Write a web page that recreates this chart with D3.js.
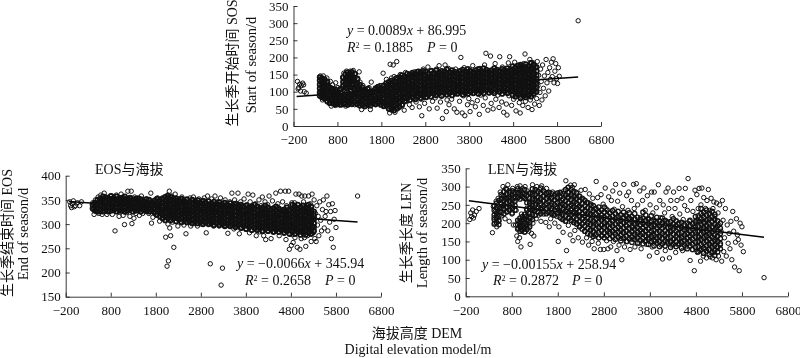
<!DOCTYPE html>
<html><head><meta charset="utf-8">
<script src="https://cdn.jsdelivr.net/npm/d3@7"></script>
<style>
html,body{margin:0;padding:0;background:#fff}
svg{display:block;filter:blur(.35px)}
text{font-family:"Liberation Serif","Noto Sans CJK SC",serif;fill:#111}
</style></head><body><svg id="c" width="800" height="358"></svg>
<script>
const xTicks=[-200,800,1800,2800,3800,4800,5800,6800];
const sosTicks=[0,50,100,150,200,250,300,350];
const eosTicks=[150,200,250,300,350,400];
const lenTicks=[0,50,100,150,200,250,300,350];
const sosFit=[0.0089,86.995], eosFit=[-0.0066,345.94], lenFit=[-0.0155,258.94];
const fitRange=[-130,6280];
// flat x,y lists
const sosPts=[-110,130,-80,112,-60,122,-40,102,-20,118,10,125,-95,108,30,120,45,100,90,96,
410,146,430,128,450,112,420,100,470,135,490,120,440,90,480,146,510,130,530,105,500,92,460,76,540,118,560,140,580,96,570,72,520,80,600,112,620,88,640,130,610,66,650,100,670,78,690,120,660,58,700,92,720,68,710,108,740,84,760,126,750,60,770,98,790,74,810,112,800,62,830,90,850,72,840,104,870,64,880,84,900,100,920,142,930,118,945,154,960,76,975,128,985,96,990,58,1005,160,1020,140,1030,112,1040,82,1050,68,1065,150,1080,130,1090,160,1100,100,1110,74,1120,120,1135,146,1150,88,1160,162,1175,136,1185,108,1195,62,1210,152,1225,124,1240,96,1250,78,1265,138,1280,112,1295,158,1300,66,1315,128,1330,84,1340,104,1350,48,1365,72,1380,118,1395,92,1410,56,1425,80,1440,102,1460,68,1480,94,1500,60,1520,112,1535,82,1550,48,1570,128,1590,98,1610,70,1630,88,1650,106,1670,62,1690,78,1710,114,1730,92,1750,66,1770,118,1790,84,
1810,70,1825,102,1840,154,1855,60,1870,90,1885,118,1900,74,1915,136,1930,56,1945,106,1960,84,1975,126,1990,38,2000,180,2010,68,2020,112,2030,140,2040,92,2050,52,2060,122,2070,178,2080,76,2090,144,2100,100,2110,40,2120,130,2130,62,2140,86,2150,188,2160,116,2170,50,2180,138,2190,96,2200,72,2215,124,2230,150,2245,84,2260,108,2275,60,2290,134,2305,94,2320,46,2335,118,2350,156,2365,74,2380,102,2395,142,2410,86,2425,126,2440,62,2455,112,2470,148,2485,94,2500,54,2515,132,2530,80,2545,118,2560,158,2575,100,2590,70,2605,140,2620,88,2635,124,2650,160,2665,56,2680,108,2695,146,2710,78,2720,30,2725,130,2740,96,2755,166,2770,116,2785,66,2800,150,2815,104,2830,136,2845,84,2860,172,2875,122,2890,50,2905,94,2920,142,2935,112,2950,162,2965,72,2980,128,2995,102,
3010,152,3025,82,3040,120,3055,166,3070,52,3085,138,3100,96,3115,176,3130,112,3145,70,3160,146,3175,126,3190,22,3205,90,3220,158,3235,108,3250,178,3265,134,3280,42,3295,76,3310,116,3325,168,3340,62,3355,144,3370,100,3385,128,3400,78,3415,156,3430,112,3445,136,3460,50,3475,94,3490,166,3505,122,3520,40,3535,148,3550,106,3565,130,3580,72,3595,158,3610,200,3625,116,3640,38,3655,140,3670,88,3685,170,3700,30,3715,124,3730,150,3745,100,3760,62,3775,134,3790,80,3805,162,3820,42,3835,112,3850,144,3865,68,3880,176,3895,126,3910,96,3925,156,3940,56,3955,132,3970,108,3985,74,4000,148,4015,118,4030,34,4045,168,4060,90,4075,138,4090,104,4105,154,4120,60,4135,126,4150,178,4165,82,4180,212,4195,114,4210,142,4225,46,4240,160,4255,96,4270,130,4285,204,4300,66,4315,120,4330,150,4345,50,4360,100,4375,140,4390,182,4405,78,4420,124,4435,164,4450,90,4465,134,4480,54,4495,202,4510,110,4525,146,4540,70,4555,172,4570,120,4585,40,4600,138,4615,98,4630,156,4645,64,4660,32,4675,126,4690,184,4705,88,4720,202,4735,144,4750,108,4765,60,4780,166,4795,130,4810,78,
4820,152,4835,186,4850,104,4865,44,4880,136,4895,160,4910,92,4920,120,4930,176,4940,68,4950,146,4960,38,4970,110,4980,130,4990,172,5000,84,5010,156,5020,60,5030,124,5040,182,5050,98,5060,142,5070,210,5080,72,5090,116,5100,164,5110,134,5120,88,5130,152,5140,54,5150,106,5160,176,5170,128,5180,194,5190,76,5200,146,5210,112,5220,166,5230,48,5240,136,5250,92,5260,184,5270,120,5280,154,5290,64,5300,104,5310,170,5320,132,5335,80,5350,188,5365,118,5380,148,5395,60,5410,98,5425,166,5440,130,5455,76,5470,178,5490,110,5510,146,5530,88,5550,194,5570,126,5590,156,5610,102,5630,170,5650,136,5670,186,5690,144,5710,196,5730,126,5750,160,5770,182,5790,138,5810,124,5830,170,5850,145,6280,307];
const eosPts=[-110,346,-90,338,-70,334,-50,342,-30,348,-10,336,20,338,60,344,110,338,150,346,
400,344,415,330,430,320,445,338,460,350,475,326,490,342,505,334,520,356,535,322,550,346,565,330,580,360,595,340,610,320,625,352,640,334,655,364,670,326,685,344,700,356,715,320,730,336,745,350,760,328,775,342,790,358,805,332,820,346,835,320,850,338,865,354,880,330,895,286,910,344,925,360,940,326,955,340,970,352,985,316,1000,334,1015,348,1030,362,1045,326,1060,342,1075,318,1090,354,1105,299,1120,336,1135,348,1150,324,1165,342,1180,368,1195,332,1210,352,1225,316,1240,338,1255,368,1270,301,1285,326,1300,346,1315,312,1330,356,1345,334,1360,322,1375,344,1390,328,1405,352,1420,336,1435,318,1450,346,1465,330,1480,358,1495,340,1510,322,1525,350,1540,334,1555,344,1570,326,1585,338,1600,352,1615,328,1630,342,1645,322,1660,334,1675,348,1690,364,1705,302,1720,338,1735,314,1750,344,1765,326,1780,350,1795,334,
1810,318,1825,342,1840,354,1855,328,1870,336,1885,306,1900,348,1915,322,1930,338,1945,354,1960,312,1975,344,1990,330,2005,356,2020,273,2030,318,2040,340,2050,213,2060,360,2070,300,2080,224,2090,332,2100,368,2110,292,2120,346,2130,276,2140,320,2150,358,2160,336,2170,304,2180,348,2190,324,2200,252,2215,342,2230,362,2245,312,2260,330,2275,352,2290,296,2305,338,2320,318,2335,346,2350,306,2365,334,2380,356,2395,322,2410,342,2425,298,2440,314,2455,336,2470,280,2485,350,2500,326,2515,304,2530,340,2545,318,2560,354,2575,296,2590,332,2605,310,2620,344,2635,356,2650,324,2665,302,2680,336,2695,316,2710,346,2725,296,2740,328,2755,352,2770,310,2785,338,2800,322,2815,300,2830,346,2845,316,2860,332,2875,354,2890,306,2905,342,2920,282,2935,324,2950,358,2965,312,2980,336,2995,300,
3010,218,3025,330,3040,352,3055,316,3070,342,3085,296,3100,326,3115,358,3130,310,3145,338,3160,304,3175,346,3190,322,3205,296,3220,332,3235,354,3250,174,3265,312,3280,209,3295,340,3310,300,3325,324,3340,350,3355,296,3370,316,3385,338,3400,281,3415,308,3430,330,3445,346,3460,298,3475,320,3490,364,3505,310,3520,334,3535,290,3550,350,3565,316,3580,328,3595,298,3610,342,3625,364,3640,306,3655,280,3670,326,3685,346,3700,294,3715,318,3730,336,3745,304,3760,352,3775,322,3790,290,3805,310,3820,340,3835,300,3850,362,3865,326,3880,282,3895,346,3910,312,3925,296,3940,334,3955,360,3970,306,3985,322,4000,290,4015,342,4030,276,4045,314,4060,330,4075,300,4090,350,4105,284,4120,320,4135,338,4150,296,4165,356,4180,310,4195,276,4210,328,4225,346,4240,268,4255,302,4270,318,4285,340,4300,286,4315,358,4330,308,4345,328,4360,270,4375,296,4390,348,4405,316,4420,334,4435,284,4450,304,4465,364,4480,320,4495,292,4510,342,4525,310,4540,276,4555,330,4570,368,4585,300,4600,318,4615,346,4630,286,4645,326,4660,304,4675,368,4690,268,4705,338,4720,290,4735,314,4750,368,4765,248,4780,330,4795,300,4810,256,
4820,344,4830,278,4840,316,4850,262,4860,330,4870,296,4880,344,4890,272,4900,310,4910,362,4920,288,4930,326,4940,252,4950,304,4960,340,4970,282,4980,362,4990,318,5000,248,5010,296,5020,336,5030,270,5040,358,5050,310,5060,286,5070,328,5080,346,5090,298,5100,272,5110,358,5120,318,5130,254,5140,292,5150,338,5160,306,5170,276,5180,326,5190,358,5200,296,5210,316,5220,284,5230,342,5240,304,5250,264,5260,330,5270,362,5280,294,5290,312,5300,282,5315,350,5330,270,5345,322,5360,264,5375,338,5390,298,5405,316,5420,276,5440,346,5460,308,5480,286,5500,330,5520,350,5540,292,5560,316,5580,326,5600,358,5620,286,5640,340,5660,304,5680,326,5700,270,5720,342,5740,252,5760,310,5780,328,5800,293,6280,358];
const lenPts=[-110,210,-90,228,-70,218,-50,236,-30,214,-10,222,30,232,90,240,
380,174,400,245,415,215,430,200,445,232,460,260,475,190,490,224,505,268,520,205,535,240,550,285,565,252,580,220,595,275,610,300,625,240,640,268,655,212,670,295,685,255,700,230,715,305,730,268,745,205,760,288,775,245,790,270,805,225,820,295,835,195,850,258,865,280,880,195,895,235,910,165,920,300,930,150,940,186,950,272,960,205,970,160,980,302,990,192,1000,135,1010,225,1020,178,1030,295,1040,210,1050,188,1060,270,1070,200,1080,176,1090,300,1100,218,1110,192,1120,240,1130,182,1140,288,1150,205,1160,228,1170,178,1180,260,1190,195,1200,142,1210,282,1220,215,1230,172,1240,248,1250,305,1260,200,1270,268,1280,165,1290,232,1300,285,1315,255,1330,212,1345,300,1360,270,1375,240,1390,222,1405,292,1420,260,1435,205,1450,302,1465,240,1480,272,1495,225,1510,285,1525,250,1540,202,1555,295,1570,268,1585,230,1600,282,1615,190,1630,250,1645,212,1660,270,1675,236,1690,285,1705,222,1720,262,1735,200,1750,280,1765,245,1780,218,1795,270,
1810,150,1825,190,1840,242,1855,282,1870,212,1885,262,1900,230,1915,175,1930,288,1945,250,1960,205,1975,316,1990,125,2000,270,2010,236,2020,298,2030,194,2040,255,2050,285,2060,215,2070,168,2080,304,2090,240,2100,272,2110,205,2120,298,2130,152,2140,250,2150,225,2160,305,2170,180,2180,265,2190,235,2200,285,2215,200,2230,250,2245,160,2260,222,2275,272,2290,192,2305,290,2320,240,2335,148,2350,212,2365,265,2380,178,2395,292,2410,232,2425,160,2440,255,2455,205,2470,140,2485,280,2500,222,2515,180,2530,248,2545,150,2560,268,2575,198,2590,130,2605,238,2620,165,2635,314,2650,212,2665,270,2680,145,2695,232,2710,188,2725,128,2740,278,2755,215,2770,165,2785,252,2800,128,2815,195,2830,296,2845,240,2860,152,2875,210,2890,130,2905,272,2920,178,2935,228,2950,135,2965,262,2980,198,2995,288,
3010,150,3025,238,3040,175,3055,306,3070,215,3085,125,3100,260,3115,188,3130,140,3145,282,3160,205,3175,158,3190,100,3205,245,3220,176,3235,306,3250,135,3265,222,3280,195,3295,275,3310,150,3325,235,3340,285,3355,172,3370,128,3385,210,3400,262,3415,156,3430,188,3445,306,3460,240,3475,135,3490,200,3505,308,3520,168,3535,250,3550,185,3565,145,3580,288,3595,215,3610,130,3625,172,3640,262,3655,198,3670,296,3685,150,3700,235,3715,178,3730,142,3745,275,3760,210,3775,162,3790,110,3805,250,3820,195,3835,285,3850,135,3865,228,3880,172,3895,285,3910,150,3925,205,3940,242,3955,120,3970,185,3985,305,4000,160,4015,262,4030,215,4045,140,4060,195,4075,102,4090,250,4105,168,4120,228,4135,125,4150,285,4165,205,4180,150,4195,296,4210,240,4225,105,4240,180,4255,262,4270,140,4285,218,4300,190,4315,285,4330,158,4345,240,4360,120,4375,205,4390,262,4405,172,4420,140,4435,295,4450,225,4465,150,4480,190,4495,268,4510,125,4525,210,4540,160,4555,248,4570,295,4585,135,4600,180,4615,235,4630,322,4645,150,4660,205,4675,98,4690,262,4705,170,4720,128,4735,232,4750,190,4765,70,4780,290,4795,148,4810,208,
4820,278,4830,120,4840,178,4850,240,4860,160,4870,295,4880,125,4890,205,4900,96,4910,250,4920,142,4930,296,4940,185,4950,222,4960,110,4970,270,4980,165,4990,200,5000,130,5010,240,5020,175,5030,105,5040,262,5050,150,5060,210,5070,292,5080,128,5090,190,5100,235,5110,108,5120,165,5130,268,5140,205,5150,140,5160,105,5170,240,5180,178,5190,258,5200,120,5210,218,5220,150,5230,190,5240,100,5250,255,5260,165,5270,132,5280,228,5290,110,5300,195,5315,250,5330,140,5345,178,5360,96,5375,262,5390,208,5405,122,5420,160,5440,240,5460,110,5480,195,5500,145,5520,172,5540,130,5560,205,5580,100,5600,232,5620,178,5640,80,5660,148,5680,212,5700,168,5720,155,5740,70,5760,200,5780,140,5800,190,5830,122,6280,51];
// dense cores, one column per elevation: [x, y, y, ...]
const sosCore=[[400,88,98,110,121,133,142],[450,84,95,104,116,127,139],[510,80,92,101,113,124,135],[570,72,83,96,107,118,128],[630,68,79,90,101,112],[690,66,76,88,99,108],[750,64,73,85,95,106],[810,66,78,88,99],[870,62,74,84,96,108],[930,64,76,88,116,128,141],[980,66,80,92,112,124,136,150],[1030,62,74,86,110,120,132,145,156],[1080,68,82,94,114,126,138,152],[1130,64,76,90,112,122,134,147,157],[1190,70,84,96,110,128,140,152],[1250,64,76,88,100,112,125,138],[1310,60,72,84,96,108,120],[1370,62,76,88,100,112],[1430,58,70,82,94,104],[1490,62,74,86,98,108],[1550,60,72,84,96],[1610,66,78,90,102],[1670,64,76,88,100,110],[1730,68,80,92,104,114],[1790,62,74,86,98,110],[1850,58,70,82,94,106,118],[1910,62,74,88,100,112,124],[1970,50,64,76,90,102,114,128],[2030,48,60,72,84,96,108,120,132],[2090,46,58,70,82,94,106,118,130],[2150,52,66,78,90,102,116,128,140],[2210,56,68,82,94,106,118,130,142],[2270,62,76,88,100,112,124,136,148],[2330,72,84,96,108,120,132,144],[2390,80,92,104,116,128,140,152],[2450,76,90,102,114,126,138,150],[2510,84,96,108,120,132,144,155],[2570,78,92,104,116,128,140,152],[2630,86,98,110,122,134,146,158],[2690,82,94,106,118,130,142,156],[2750,88,100,112,124,136,148,160],[2810,84,98,110,122,134,146,158],[2870,92,104,116,128,140,152],[2930,86,98,110,122,134,146,160],[2990,94,106,118,130,142,154],[3050,90,102,114,126,138,150,162],[3110,96,108,120,132,144,156],[3170,88,100,112,124,136,148,160],[3230,98,110,122,134,146,158],[3290,92,104,116,128,140,152,165],[3350,96,108,120,132,144,156],[3410,90,102,114,126,138,150,162],[3470,98,110,122,134,146,158],[3530,94,106,118,130,142,154],[3590,100,112,124,136,148,160],[3650,92,104,116,128,140,152,164],[3710,98,110,122,134,146,158],[3770,94,106,118,130,142,154,166],[3830,100,112,124,136,148,160],[3890,96,108,120,132,144,156],[3950,102,114,126,138,150,162],[4010,94,106,118,130,142,154,166],[4070,100,112,124,136,148,160],[4130,96,108,120,132,144,156,168],[4190,104,116,128,140,152,164],[4250,98,110,122,134,146,158],[4310,102,114,126,138,150,162],[4370,96,108,120,132,144,156,168],[4430,104,116,128,140,152,164],[4490,100,112,124,136,148,160],[4550,94,106,118,130,142,154,166],[4610,102,114,126,138,150,162],[4670,96,108,120,132,144,156,168],[4730,104,116,128,140,152,164],[4790,90,102,114,126,138,150,162,174],[4850,86,98,110,122,134,146,158,170],[4910,92,104,116,128,140,152,164,176],[4970,82,94,106,118,130,142,154,166,178],[5030,88,100,112,124,136,148,160,172],[5090,84,96,108,120,132,144,156,168,180],[5150,90,102,114,126,138,150,162,174],[5210,86,98,110,122,134,146,158,170,184],[5270,94,106,118,130,142,154,166,178],[5330,100,112,124,136,148,160,172]];
const eosCore=[[400,332,340],[450,328,336,344],[510,326,334,342,350],[570,328,337,345,352],[630,326,334,342,350,357],[690,330,338,346,354],[750,326,335,343,351],[810,328,336,344,352,358],[870,330,338,346,353],[930,326,334,342,350,357],[990,328,336,345,353],[1050,330,338,346,354],[1110,326,334,342,350,357],[1170,328,337,345,352],[1230,330,338,346,354],[1290,326,334,342,350],[1350,328,336,344,352],[1410,330,338,346,353],[1470,326,335,343,351],[1530,330,338,346],[1590,328,336,344,351],[1650,326,334,342,350],[1710,328,337,345],[1770,324,332,340,348],[1830,320,328,336,344,352],[1890,316,325,333,341,349],[1950,312,320,328,336,344,352],[2010,308,316,324,332,340,348,356],[2070,312,320,328,336,344,352,358],[2130,308,316,324,332,340,348,356],[2190,312,320,328,336,344,352],[2250,306,314,322,330,338,346,353],[2310,310,318,326,334,342,350],[2370,304,312,320,328,336,344,352],[2430,308,316,324,332,340,348],[2490,304,312,320,328,336,344,351],[2550,306,314,322,330,338,346],[2610,302,310,318,326,334,342,350],[2670,306,314,322,330,338,346],[2730,302,310,318,326,334,342,349],[2790,304,312,320,328,336,344],[2850,300,308,316,324,332,340,348],[2910,304,312,320,328,336,344],[2970,300,308,316,324,332,340,347],[3030,302,310,318,326,334,342],[3090,298,306,314,322,330,338,346],[3150,302,310,318,326,334,342],[3210,298,306,314,322,330,338,345],[3270,300,308,316,324,332,340],[3330,296,304,312,320,328,336,344],[3390,300,308,316,324,332,340],[3450,296,304,312,320,328,336,343],[3510,298,306,314,322,330,338],[3570,294,302,310,318,326,334,342],[3630,298,306,314,322,330,338],[3690,292,300,308,316,324,332,340],[3750,296,304,312,320,328,336],[3810,290,298,306,314,322,330,338],[3870,294,302,310,318,326,334],[3930,288,296,304,312,320,328,336],[3990,292,300,308,316,324,332,340],[4050,288,296,304,312,320,328,336],[4110,292,300,308,316,324,332],[4170,286,294,302,310,318,326,334],[4230,290,298,306,314,322,330,338],[4290,286,294,302,310,318,326,334],[4350,290,298,306,314,322,330],[4410,284,292,300,308,316,324,332],[4470,288,296,304,312,320,328,336],[4530,284,292,300,308,316,324,332],[4590,288,296,304,312,320,328],[4650,282,290,298,306,314,322,330],[4710,286,294,302,310,318,326,334],[4770,280,288,296,304,312,320,328],[4830,284,292,300,308,316,324,332,340],[4890,280,288,296,304,312,320,328,336],[4950,284,292,300,308,316,324,332,340],[5010,278,286,294,302,310,318,326,334],[5070,282,290,298,306,314,322,330,338],[5130,278,286,294,302,310,318,326,334],[5190,282,290,298,306,314,322,330,340],[5250,280,288,296,304,312,320,328,336],[5310,286,294,302,310,318,326]];
const lenCore=[[420,198,210,222,235,248],[470,202,215,228,242,255],[520,196,208,220,232,246,262],[570,230,242,254,266,278],[630,226,238,250,262,274,286],[690,232,244,256,268,280,292],[750,236,248,260,272,284],[810,228,240,252,264,276,288],[870,236,248,260,272,284],[930,184,196,208,270,282,294],[980,178,190,202,214,266,278,290],[1030,182,194,206,218,272,284],[1080,176,188,200,212,224,268,280,292],[1130,184,196,208,220,236,256,276],[1190,190,202,214,226,240,254,268,282],[1250,210,224,238,252,266,280,294],[1310,222,236,250,264,278,292],[1370,230,244,258,272,286],[1430,226,240,254,268,282,296],[1490,232,246,260,274,288],[1550,226,240,254,268,282],[1610,230,244,258,272,284],[1670,226,240,254,268,280],[1730,222,236,250,264,276],[1790,228,242,256,270,282],[1850,216,230,244,258,272,284],[1910,210,224,238,252,266,280],[1970,206,220,234,248,262,276,292],[2030,214,228,242,256,270,284,298],[2090,208,222,236,250,264,278,292],[2150,202,216,230,244,258,272,286],[2210,198,212,226,240,254,268,282],[2270,190,204,218,232,246,260,274],[2330,184,198,212,226,240,254,268],[2390,178,192,206,220,234,248,262],[2450,172,186,200,214,228,242,256],[2510,168,182,196,210,224,238,252],[2570,164,178,192,206,220,234,248],[2630,170,184,198,212,226,240],[2690,160,174,188,202,216,230,244],[2750,166,180,194,208,222,236],[2810,160,174,188,202,216,230,244],[2870,166,180,194,208,222,236],[2930,158,172,186,200,214,228],[2990,164,178,192,206,220,234],[3050,156,170,184,198,212,226],[3110,162,176,190,204,218,232],[3170,152,166,180,194,208,222],[3230,160,174,188,202,216,230],[3290,150,164,178,192,206,220],[3350,158,172,186,200,214,228],[3410,148,162,176,190,204,218],[3470,156,170,184,198,212,226],[3530,146,160,174,188,202,216],[3590,154,168,182,196,210],[3650,144,158,172,186,200,214,230],[3710,152,166,180,194,208,222],[3770,142,156,170,184,198,212],[3830,150,164,178,192,206,220],[3890,138,152,166,180,194,208],[3950,146,160,174,188,202,216],[4010,136,150,164,178,192,206],[4070,144,158,172,186,200,214],[4130,138,152,166,180,194,208],[4190,146,160,174,188,202],[4250,134,148,162,176,190,204],[4310,142,156,170,184,198,212],[4370,136,150,164,178,192,206],[4430,144,158,172,186,200],[4490,132,146,160,174,188,202],[4550,140,154,168,182,196],[4610,130,144,158,172,186,200],[4670,138,152,166,180,194,208],[4730,128,142,156,170,184,198],[4790,134,148,162,176,190,204,218],[4850,122,136,150,164,178,192,206,220],[4910,128,142,156,170,184,198,212,226,240],[4970,118,132,146,160,174,188,202,216,230],[5030,124,138,152,166,180,194,208,222,236],[5090,114,128,142,156,170,184,198,212,226],[5150,120,134,148,162,176,190,204,218,232],[5210,112,126,140,154,168,182,196,210,224],[5270,122,136,150,164,178,192,206],[5330,130,144,158,172,186,200]];

const svg=d3.select("#c");
const fmt=d=>String(d).replace("-","\u2212");
function panel(o){
  const x=d3.scaleLinear().domain([-200,6800]).range(o.xr);
  const y=d3.scaleLinear().domain(o.yd).range(o.yr);
  const g=svg.append("g");
  const pts=d3.range(0,o.pts.length,2).map(i=>[o.pts[i],o.pts[i+1]]);
  const core=o.core.flatMap(c=>c.slice(1).map(v=>[c[0],v]));
  const dots=(sel,sw)=>sel.join("circle")
    .attr("cx",d=>x(d[0])).attr("cy",d=>y(d[1])).attr("r",2.2)
    .attr("fill","none").attr("stroke","#111").attr("stroke-width",sw);
  dots(g.append("g").selectAll("circle").data(pts),1);
  g.append("line").attr("x1",x(fitRange[0])).attr("x2",x(fitRange[1]))
    .attr("y1",y(o.fit[0]*fitRange[0]+o.fit[1])).attr("y2",y(o.fit[0]*fitRange[1]+o.fit[1]))
    .attr("stroke","#000").attr("stroke-width",1.5);
  dots(g.append("g").selectAll("circle").data(core),o.coreStroke);
  const ax=g.append("g").attr("transform",`translate(0,${o.yr[0]})`)
    .call(d3.axisBottom(x).tickValues(xTicks).tickFormat(fmt).tickSize(-4).tickSizeOuter(0).tickPadding(9));
  const ay=g.append("g").attr("transform",`translate(${o.xr[0]},0)`)
    .call(d3.axisLeft(y).tickValues(o.yt).tickSize(-4).tickSizeOuter(0).tickPadding(5));
  [ax,ay].forEach(a=>{a.selectAll("text").attr("font-size",13).attr("font-family",'"Liberation Serif"').attr("fill","#111");
    a.selectAll("line,path").attr("stroke","#222").attr("stroke-width",.9);});
  o.yl.forEach(l=>g.append("text").attr("transform",`translate(${l[1]},${l[2]}) rotate(-90)`)
    .attr("text-anchor","middle").attr("font-size",l[3]).text(l[0]));
  if(o.title)g.append("text").attr("x",o.title[1]).attr("y",o.title[2]).attr("font-size",14).text(o.title[0]);
  const e=o.eq;
  const t1=g.append("text").attr("x",e[0]).attr("y",e[1]).attr("font-size",14);
  t1.append("tspan").attr("font-style","italic").text("y");
  t1.append("tspan").text(" = "+e[2]);
  t1.append("tspan").attr("font-style","italic").text("x");
  t1.append("tspan").text(" + "+e[3]);
  const t2=g.append("text").attr("x",e[4]).attr("y",e[5]).attr("font-size",14);
  t2.append("tspan").attr("font-style","italic").text("R");
  t2.append("tspan").attr("font-size",8).attr("dy",-4).text("2");
  t2.append("tspan").attr("dy",4).text(" = "+e[6]);
  const t3=g.append("text").attr("x",e[7]).attr("y",e[5]).attr("font-size",14);
  t3.append("tspan").attr("font-style","italic").text("P");
  t3.append("tspan").text(" = 0");
}
panel({pts:sosPts,core:sosCore,coreStroke:1.8,fit:sosFit,xr:[293.5,601],yd:[0,350],yr:[126,6],yt:sosTicks,
  yl:[["生长季开始时间 SOS",237,63,14],["Start of season/d",256,65,14.5]],
  eq:[347,35,"0.0089","86.995",347,52,"0.1885",427]});
panel({pts:eosPts,core:eosCore,coreStroke:1.8,fit:eosFit,xr:[65.7,381],yd:[150,400],yr:[296.7,175.7],yt:eosTicks,
  yl:[["生长季结束时间 EOS",12,233,14],["End of season/d",28,234,14.5]],
  title:["EOS与海拔",95,174],
  eq:[237,268,"\u22120.0066","345.94",245,285,"0.2658",325]});
panel({pts:lenPts,core:lenCore,coreStroke:1.3,fit:lenFit,xr:[465.7,788],yd:[0,350],yr:[296.3,168.3],yt:lenTicks,
  yl:[["生长季长度 LEN",411,233,14],["Length of season/d",427,233,14.5]],
  title:["LEN与海拔",488,174],
  eq:[482,269,"\u22120.00155","258.94",493,285,"0.2872",572]});
svg.append("text").attr("x",417).attr("y",338).attr("text-anchor","middle").attr("font-size",14).text("海拔高度 DEM");
svg.append("text").attr("x",418).attr("y",354).attr("text-anchor","middle").attr("font-size",14).text("Digital elevation model/m");
</script></body></html>
